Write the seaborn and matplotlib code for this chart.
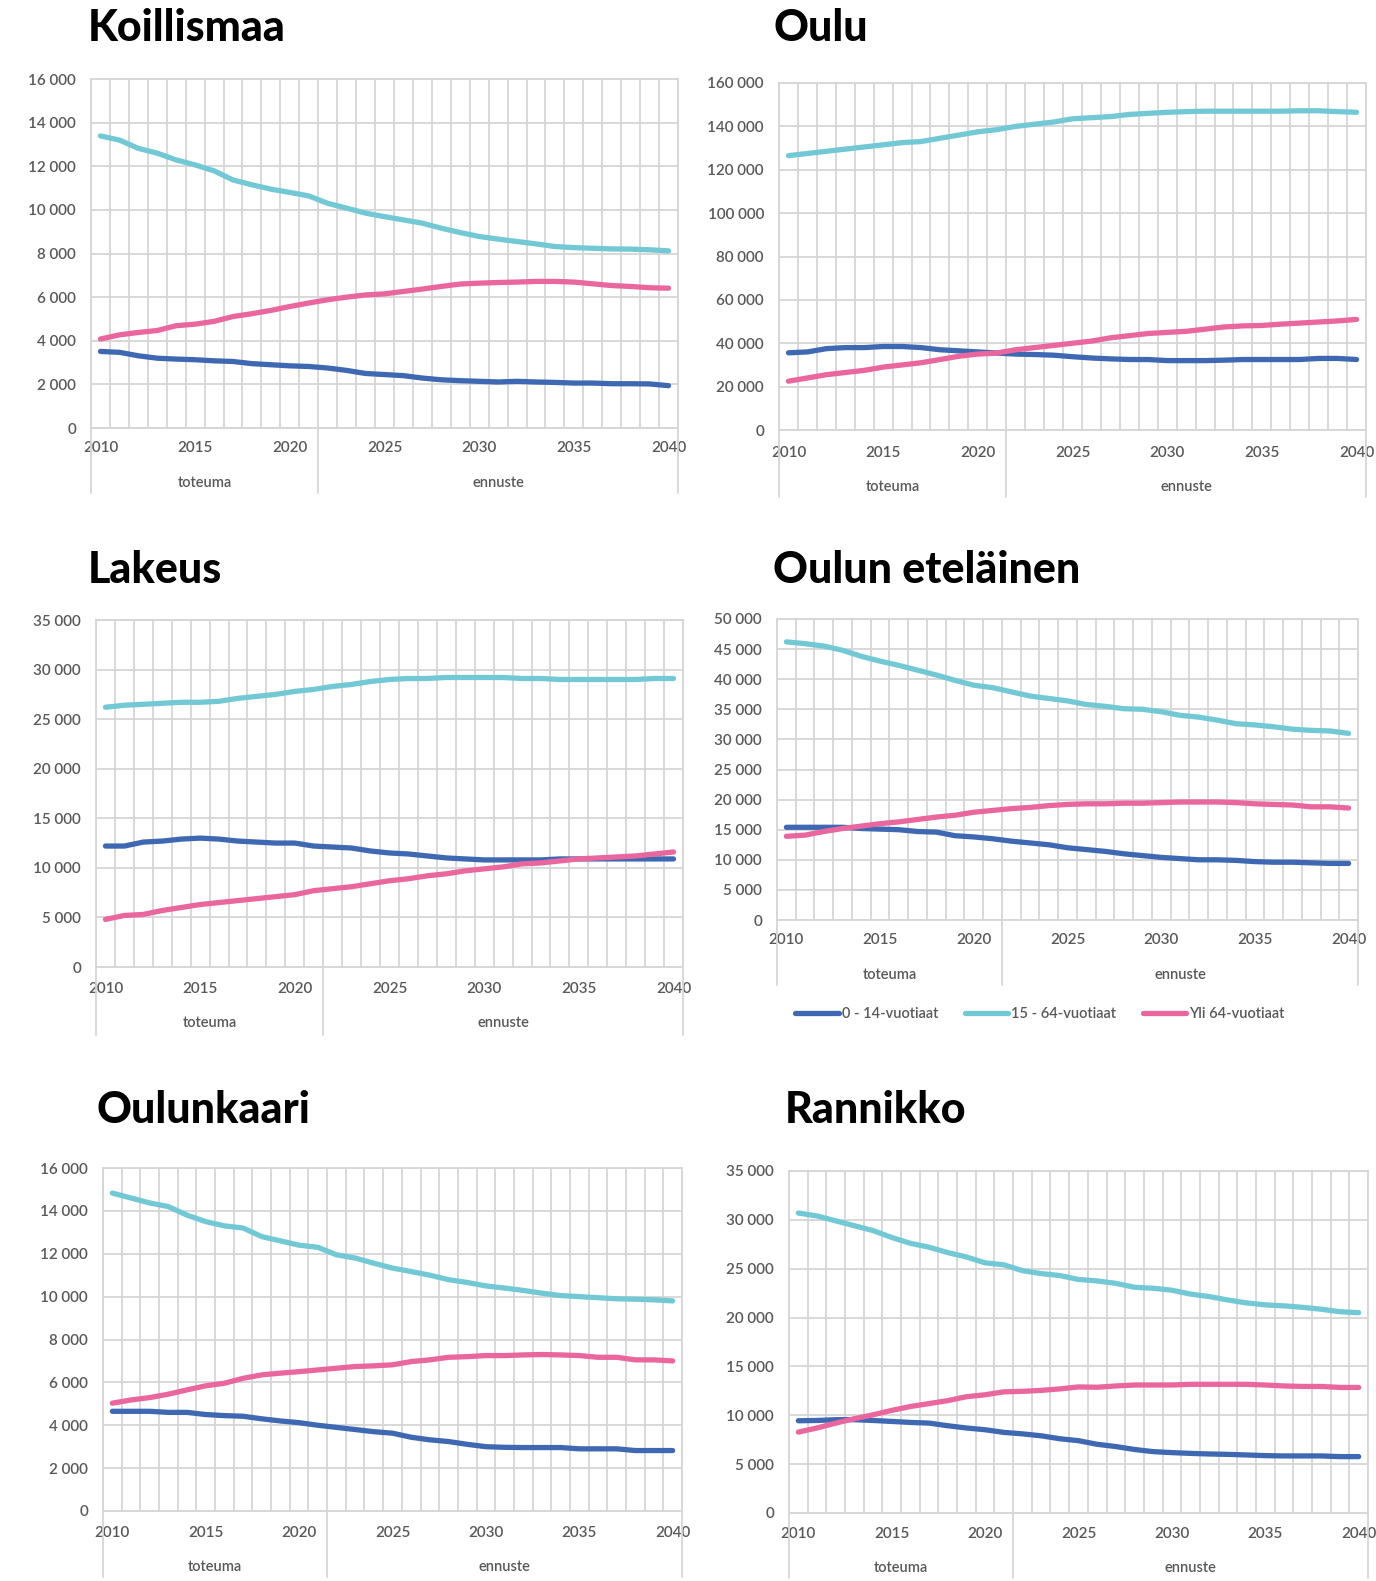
import numpy as np
import pandas as pd
import matplotlib
matplotlib.use("Agg")
import matplotlib.pyplot as plt
import matplotlib.transforms as mtransforms
from matplotlib.ticker import FuncFormatter
import seaborn as sns

years = list(range(2010, 2041))
groups = ["0 - 14-vuotiaat", "15 - 64-vuotiaat", "Yli 64-vuotiaat"]
x_labels = ["2010", "2015", "2020", "2025", "2030", "2035", "2040"]
period_labels = ["toteuma", "ennuste"]

# Koillismaa
koillismaa_0_14 = [3510, 3470, 3310, 3200, 3160, 3130, 3080, 3050, 2950, 2900, 2850, 2820, 2750, 2640, 2500, 2450,
                   2400, 2290, 2210, 2170, 2140, 2110, 2140, 2110, 2090, 2060, 2060, 2030, 2030, 2020, 1940]
koillismaa_15_64 = [13390, 13200, 12820, 12600, 12290, 12060, 11790, 11370, 11150, 10950, 10800, 10640, 10300, 10080,
                    9850, 9690, 9540, 9390, 9160, 8960, 8780, 8660, 8550, 8440, 8320, 8270, 8240, 8210, 8200, 8170, 8120]
koillismaa_65 = [4080, 4270, 4380, 4470, 4690, 4760, 4890, 5110, 5240, 5390, 5570, 5730, 5880, 6000, 6100, 6150,
                 6260, 6370, 6490, 6600, 6640, 6670, 6690, 6720, 6720, 6690, 6610, 6530, 6490, 6430, 6410]

# Oulu
oulu_0_14 = [35600, 36000, 37500, 38000, 38000, 38500, 38500, 38000, 37000, 36500, 36000, 35500, 35000, 34800, 34500,
             33800, 33200, 32800, 32500, 32500, 32000, 32000, 32000, 32200, 32500, 32500, 32500, 32500, 33000, 33000, 32500]
oulu_15_64 = [126500, 127500, 128500, 129500, 130500, 131500, 132500, 133000, 134500, 136000, 137500, 138500, 140000,
              141000, 142000, 143500, 144000, 144500, 145500, 146000, 146500, 146800, 147000, 147000, 147000, 147000,
              147000, 147200, 147200, 146800, 146500]
oulu_65 = [22500, 24000, 25500, 26500, 27500, 29000, 30000, 31000, 32500, 34000, 35000, 35500, 37000, 38000, 39000,
           40000, 41000, 42500, 43500, 44500, 45000, 45500, 46500, 47500, 48000, 48200, 48800, 49300, 49800, 50300, 51000]

# Lakeus
lakeus_0_14 = [12200, 12200, 12600, 12700, 12900, 13000, 12900, 12700, 12600, 12500, 12500, 12200, 12100, 12000, 11700,
               11500, 11400, 11200, 11000, 10900, 10800, 10800, 10800, 10800, 10900, 10900, 10900, 10900, 10900, 10900, 10900]
lakeus_15_64 = [26200, 26400, 26500, 26600, 26700, 26700, 26800, 27100, 27300, 27500, 27800, 28000, 28300, 28500, 28800,
                29000, 29100, 29100, 29200, 29200, 29200, 29200, 29100, 29100, 29000, 29000, 29000, 29000, 29000, 29100, 29100]
lakeus_65 = [4800, 5200, 5300, 5700, 6000, 6300, 6500, 6700, 6900, 7100, 7300, 7700, 7900, 8100, 8400, 8700, 8900,
             9200, 9400, 9700, 9900, 10100, 10400, 10500, 10700, 10900, 11000, 11100, 11200, 11400, 11600]

# Oulun eteläinen
etelainen_0_14 = [15400, 15400, 15400, 15400, 15200, 15100, 15000, 14700, 14600, 14000, 13800, 13500, 13100, 12800, 12500,
                  12000, 11700, 11400, 11000, 10700, 10400, 10200, 10000, 10000, 9900, 9700, 9600, 9600, 9500, 9400, 9400]
etelainen_15_64 = [46200, 45900, 45500, 44800, 43800, 43000, 42300, 41500, 40700, 39800, 39000, 38600, 37900, 37200, 36800,
                   36400, 35800, 35500, 35100, 35000, 34600, 34000, 33700, 33200, 32600, 32400, 32100, 31700, 31500, 31400, 31000]
etelainen_65 = [13900, 14100, 14700, 15200, 15600, 16000, 16300, 16700, 17100, 17400, 17900, 18200, 18500, 18700, 19000,
                19200, 19300, 19300, 19400, 19400, 19500, 19600, 19600, 19600, 19500, 19300, 19200, 19100, 18800, 18800, 18600]

# Oulunkaari
oulunkaari_0_14 = [4650, 4650, 4650, 4600, 4600, 4500, 4450, 4420, 4300, 4200, 4120, 4000, 3900, 3800, 3700, 3630, 3440,
                   3320, 3240, 3110, 3000, 2970, 2960, 2960, 2960, 2900, 2900, 2900, 2820, 2820, 2820]
oulunkaari_15_64 = [14830, 14600, 14370, 14200, 13800, 13500, 13300, 13200, 12800, 12600, 12400, 12300, 11950, 11800,
                    11560, 11330, 11170, 11000, 10790, 10660, 10500, 10400, 10290, 10160, 10050, 10000, 9950, 9900, 9880,
                    9850, 9800]
oulunkaari_65 = [5030, 5180, 5290, 5450, 5650, 5840, 5960, 6190, 6350, 6430, 6500, 6580, 6660, 6740, 6770, 6820, 6970,
                 7050, 7170, 7200, 7250, 7250, 7280, 7300, 7280, 7250, 7170, 7170, 7050, 7050, 7000]

# Rannikko
rannikko_0_14 = [9440, 9470, 9550, 9550, 9470, 9370, 9270, 9200, 8930, 8700, 8520, 8250, 8100, 7900, 7600, 7400, 7030,
                 6800, 6500, 6280, 6180, 6100, 6040, 6000, 5940, 5870, 5840, 5840, 5840, 5770, 5770]
rannikko_15_64 = [30700, 30400, 29900, 29400, 28900, 28200, 27600, 27200, 26650, 26200, 25600, 25400, 24800, 24500, 24300,
                  23900, 23750, 23500, 23100, 23000, 22800, 22400, 22150, 21800, 21500, 21300, 21200, 21050, 20850, 20600,
                  20500]
rannikko_65 = [8280, 8700, 9200, 9650, 10050, 10500, 10900, 11200, 11500, 11900, 12100, 12400, 12450, 12550, 12700, 12900,
               12870, 13000, 13100, 13100, 13100, 13170, 13170, 13170, 13170, 13100, 13000, 12950, 12950, 12850, 12850]

sns.set_theme(style="white")
plt.rcParams["font.family"] = ["Lato", "DejaVu Sans"]

W, H = 1376, 1581
fig = plt.figure(figsize=(W / 100, H / 100), dpi=100)
fig.patch.set_facecolor("white")

palette = dict(zip(groups, ["#3F68B3", "#72C9D5", "#E9679E"]))
GRID = "#D6D6D6"
TICK = "#595959"
PX2PT = 0.72


def space_thousands(v, _pos):
    return f"{v:,.0f}".replace(",", " ")


def draw_panel(title, young, work, old, box, title_xy, ymax, ystep,
               xlab_y, grp_y, sep_y, show_legend=False):
    l, t, r, b = box
    ax = fig.add_axes([l / W, 1 - b / H, (r - l) / W, (b - t) / H])
    df = pd.DataFrame({
        "Vuosi": years * 3,
        "Asukkaat": young + work + old,
        "Ikäryhmä": [g for g in groups for _ in years],
    })
    sns.lineplot(data=df, x="Vuosi", y="Asukkaat", hue="Ikäryhmä", palette=palette,
                 linewidth=3.8, ax=ax, legend=show_legend, solid_capstyle="round")

    ax.set_xlim(2009.5, 2040.5)
    ax.set_ylim(0, ymax)
    ax.set_xticks(np.arange(2009.5, 2041, 1.0), minor=True)
    ax.set_xticks([int(s) for s in x_labels])
    ax.set_xticklabels(x_labels)
    ax.set_yticks(np.arange(0, ymax + 1, ystep))
    ax.yaxis.set_major_formatter(FuncFormatter(space_thousands))
    ax.grid(False)
    ax.grid(True, which="minor", axis="x", color=GRID, lw=1.3)
    ax.grid(True, which="major", axis="y", color=GRID, lw=1.3)
    ax.set_axisbelow(True)
    ax.set_xlabel("")
    ax.set_ylabel("")
    ax.tick_params(which="both", length=0)
    ax.tick_params(axis="x", pad=(xlab_y - b - 8) * PX2PT, labelsize=11, labelcolor=TICK)
    ax.tick_params(axis="y", pad=15 * PX2PT, labelsize=11, labelcolor=TICK)
    for lab in ax.get_xticklabels() + ax.get_yticklabels():
        lab.set_fontweight("semibold")
    for sp in ax.spines.values():
        sp.set_color(GRID)
        sp.set_linewidth(1.3)

    h = b - t
    trans = mtransforms.blended_transform_factory(ax.transData, ax.transAxes)
    for xv in (2009.5, 2021.5, 2040.5):
        ax.plot([xv, xv], [0, (b - sep_y) / h], transform=trans, color=GRID, lw=1.3,
                clip_on=False)
    ax.text(2015.5, (b - grp_y) / h, period_labels[0], transform=trans, ha="center",
            va="center", fontsize=10.5, color=TICK, fontweight="semibold")
    ax.text(2031, (b - grp_y) / h, period_labels[1], transform=trans, ha="center",
            va="center", fontsize=10.5, color=TICK, fontweight="semibold")

    fig.text(title_xy[0] / W, 1 - title_xy[1] / H, title, fontsize=31, fontweight="black",
             ha="left", va="center", color="#000000")
    return ax


draw_panel("Koillismaa", koillismaa_0_14, koillismaa_15_64, koillismaa_65,
           (91, 79, 678, 428), (88, 28), 16000, 2000, 449, 483, 493)
draw_panel("Oulu", oulu_0_14, oulu_15_64, oulu_65,
           (779, 83, 1366, 430), (773, 28), 160000, 20000, 454, 487, 497)
draw_panel("Lakeus", lakeus_0_14, lakeus_15_64, lakeus_65,
           (96, 620, 683, 967), (88, 570), 35000, 5000, 990, 1023, 1035)
ax4 = draw_panel("Oulun eteläinen", etelainen_0_14, etelainen_15_64, etelainen_65,
                 (777, 619, 1358, 920), (773, 570), 50000, 5000, 941, 975, 985,
                 show_legend=True)
draw_panel("Oulunkaari", oulunkaari_0_14, oulunkaari_15_64, oulunkaari_65,
           (103, 1168, 682, 1511), (97, 1110), 16000, 2000, 1534, 1567, 1577)
draw_panel("Rannikko", rannikko_0_14, rannikko_15_64, rannikko_65,
           (789, 1171, 1368, 1513), (785, 1110), 35000, 5000, 1535, 1568, 1578)

handles, labels = ax4.get_legend_handles_labels()
ax4.get_legend().remove()
leg = fig.legend(handles, labels, loc="center", bbox_to_anchor=(1040 / W, 1 - 1014 / H),
                 ncol=3, frameon=False, handlelength=3.0, handletextpad=0.2,
                 columnspacing=1.8, fontsize=10.5)
for txt in leg.get_texts():
    txt.set_color(TICK)
    txt.set_fontweight("semibold")
for ln in leg.get_lines():
    ln.set_linewidth(3.8)

fig.savefig("out.png", dpi=100, facecolor="white")
